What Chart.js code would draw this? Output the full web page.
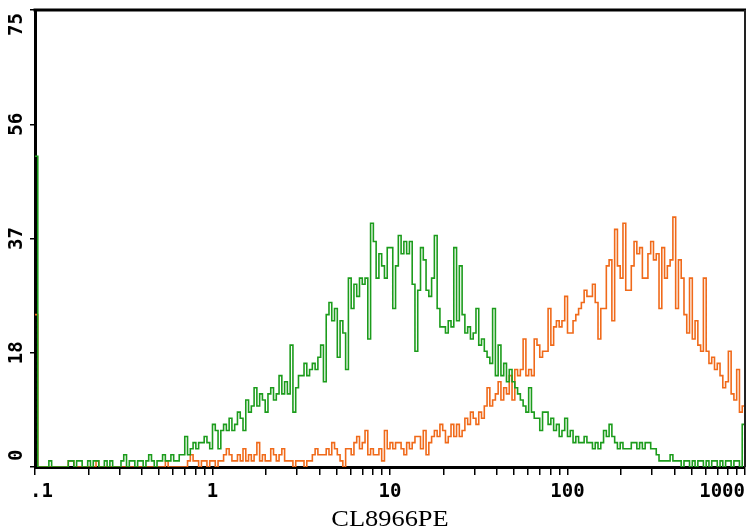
<!DOCTYPE html>
<html>
<head>
<meta charset="utf-8">
<style>
  body { margin: 0; background: #fff; }
  #histo { display: block; }
</style>
<script src="https://cdn.jsdelivr.net/npm/chart.js@4.4.1/dist/chart.umd.min.js"></script>
</head>
<body>
<canvas id="histo" width="746" height="532"></canvas>
<script>
// 256 log channels, .1 to 1000
const greenCounts = [
  51, 0, 0, 0, 0, 1, 0, 0,
  0, 0, 0, 0, 1, 1, 0, 1,
  1, 0, 0, 1, 0, 1, 1, 0,
  0, 1, 0, 1, 0, 0, 0, 1,
  2, 0, 1, 1, 0, 1, 1, 0,
  1, 2, 1, 0, 1, 1, 2, 1,
  1, 2, 1, 1, 2, 2, 5, 2,
  3, 4, 3, 4, 4, 5, 4, 3,
  7, 6, 3, 6, 7, 6, 8, 6,
  7, 9, 8, 6, 11, 9, 10, 13,
  10, 12, 11, 9, 12, 13, 11, 12,
  15, 12, 14, 12, 20, 9, 13, 15,
  15, 17, 15, 16, 17, 16, 18, 20,
  14, 25, 27, 24, 26, 18, 24, 22,
  16, 31, 26, 30, 28, 31, 30, 31,
  21, 40, 37, 31, 35, 33, 31, 36,
  36, 26, 33, 38, 35, 37, 35, 37,
  30, 19, 29, 36, 34, 29, 28, 31,
  38, 26, 23, 23, 22, 24, 23, 36,
  24, 33, 25, 22, 23, 21, 22, 26,
  20, 21, 19, 18, 17, 26, 15, 20,
  15, 17, 14, 16, 14, 13, 12, 11,
  10, 9, 13, 9, 8, 8, 6, 9,
  9, 7, 8, 6, 7, 5, 6, 8,
  5, 6, 4, 5, 4, 4, 5, 4,
  4, 3, 4, 3, 4, 6, 5, 7,
  5, 4, 3, 4, 3, 3, 3, 4,
  4, 3, 4, 3, 4, 4, 3, 3,
  2, 1, 1, 1, 1, 2, 1, 1,
  1, 0, 1, 1, 0, 1, 0, 1,
  1, 0, 1, 0, 1, 1, 0, 1,
  0, 1, 1, 0, 1, 1, 0, 7
];

const orangeCounts = [
  25, 0, 0, 0, 0, 0, 0, 0,
  0, 0, 0, 0, 1, 1, 0, 0,
  0, 0, 0, 0, 0, 0, 1, 0,
  0, 0, 0, 0, 0, 0, 0, 0,
  0, 0, 0, 0, 0, 0, 0, 0,
  0, 0, 0, 0, 0, 0, 0, 1,
  0, 0, 0, 0, 0, 0, 0, 1,
  2, 1, 1, 0, 1, 1, 0, 1,
  1, 0, 1, 1, 2, 3, 2, 1,
  1, 2, 1, 3, 1, 2, 1, 2,
  4, 1, 2, 1, 1, 3, 2, 1,
  2, 3, 1, 1, 1, 0, 1, 1,
  1, 0, 1, 1, 2, 3, 2, 2,
  2, 3, 2, 4, 3, 2, 1, 0,
  3, 3, 2, 4, 5, 3, 4, 6,
  2, 3, 2, 2, 3, 1, 6, 3,
  4, 3, 4, 4, 3, 2, 4, 3,
  4, 5, 5, 3, 6, 2, 4, 5,
  6, 5, 7, 6, 4, 5, 7, 5,
  7, 5, 6, 8, 7, 9, 8, 7,
  9, 8, 10, 13, 10, 11, 12, 14,
  11, 13, 12, 15, 11, 16, 15, 16,
  21, 15, 16, 15, 21, 20, 18, 19,
  19, 26, 20, 23, 24, 23, 24, 28,
  22, 22, 24, 25, 26, 27, 29, 28,
  28, 30, 27, 21, 26, 26, 33, 34,
  24, 39, 33, 31, 40, 29, 29, 33,
  37, 35, 36, 31, 31, 35, 37, 34,
  35, 26, 36, 31, 33, 34, 41, 26,
  34, 31, 25, 22, 31, 21, 24, 20,
  19, 31, 19, 17, 18, 16, 17, 15,
  13, 14, 19, 12, 11, 16, 9, 10
];

const xRange = [0.1, 1000];
const xDecades = [0.1, 1, 10, 100, 1000];
const xDecadeLabels = ['.1', '1', '10', '100', '1000'];
const xMinorSteps = [2, 3, 4, 5, 6, 7, 8, 9];
const yTicks = [0, 18.75, 37.5, 56.25, 75];
const yTickLabels = ['0', '18', '37', '56', '75'];
const axisTitle = 'CL8966PE';

const tickFont = 'bold 19px "DejaVu Sans Mono", monospace';
const titleFont = '24px "Liberation Serif", "Times New Roman", serif';

function toPoints(counts) {
    const n = counts.length;
    const edge = i => xRange[0] * Math.pow(xRange[1] / xRange[0], i / n);
    const pts = counts.map((v, i) => ({ x: edge(i), y: v }));
    pts.push({ x: edge(n), y: counts[n - 1] });
    return pts;
}

const framePlugin = {
    id: 'frame',
    afterDraw(chart) {
        const ctx = chart.ctx;
        const area = chart.chartArea;
        const xs = chart.scales.x;
        const ys = chart.scales.y;
        ctx.save();
        ctx.strokeStyle = '#000';
        ctx.lineWidth = 3;
        ctx.beginPath();
        ctx.moveTo(area.left - 1.5, area.top);
        ctx.lineTo(chart.width, area.top);
        ctx.stroke();
        ctx.lineWidth = 2;
        ctx.strokeStyle = '#222';
        ctx.beginPath();
        ctx.moveTo(area.right, area.top);
        ctx.lineTo(area.right, area.bottom);
        ctx.stroke();

        ctx.fillStyle = '#000';
        ctx.font = tickFont;
        ctx.textBaseline = 'middle';
        ctx.textAlign = 'center';
        // x labels
        xDecades.forEach((v, i) => {
            const label = xDecadeLabels[i];
            const w = ctx.measureText(label).width;
            let px = xs.getPixelForValue(v);
            px = Math.max(px, area.left - 5 + w / 2);
            px = Math.min(px, area.right - w / 2);
            ctx.fillText(label, px, area.bottom + 25);
        });
        // y labels, rotated
        yTicks.forEach((v, i) => {
            const label = yTickLabels[i];
            const w = ctx.measureText(label).width;
            let py = ys.getPixelForValue(v);
            py = Math.max(py, area.top + w / 2 + 3);
            py = Math.min(py, area.bottom - w / 2 - 6);
            ctx.save();
            ctx.translate(17, py);
            ctx.rotate(-Math.PI / 2);
            ctx.fillText(label, 0, 0);
            ctx.restore();
        });
        // axis title, centred under the plot area
        ctx.font = titleFont;
        ctx.save();
        ctx.translate((area.left + area.right) / 2, area.bottom + 53);
        ctx.scale(1.1, 1);
        ctx.fillText(axisTitle, 0, 0);
        ctx.restore();
        ctx.restore();
    }
};

const ctx = document.getElementById('histo').getContext('2d');
new Chart(ctx, {
    type: 'line',
    data: {
        datasets: [{
            label: 'green',
            data: toPoints(greenCounts),
            borderColor: '#1c9c1c',
            borderWidth: 1.6,
            stepped: 'before',
            pointRadius: 0,
            fill: false
        }, {
            label: 'orange',
            data: toPoints(orangeCounts),
            borderColor: '#f06a1a',
            borderWidth: 1.6,
            stepped: 'before',
            pointRadius: 0,
            fill: false
        }]
    },
    options: {
        responsive: false,
        animation: false,
        events: [],
        layout: { padding: { left: 0, right: 1, top: 10, bottom: 0 } },
        plugins: {
            legend: { display: false },
            tooltip: { enabled: false },
            title: { display: false }
        },
        scales: {
            x: {
                type: 'logarithmic',
                min: xRange[0],
                max: xRange[1],
                afterBuildTicks(scale) {
                    const t = [];
                    xDecades.forEach((d, i) => {
                        t.push({ value: d, major: true });
                        if (i < xDecades.length - 1) {
                            xMinorSteps.forEach(s => t.push({ value: d * s }));
                        }
                    });
                    scale.ticks = t;
                },
                afterFit(scale) { scale.height = 65; scale.paddingLeft = 0; scale.paddingRight = 0; },
                ticks: { display: false },
                grid: { drawOnChartArea: false, drawTicks: true, tickLength: 8, color: '#000', lineWidth: 1.5 },
                border: { display: true, color: '#000', width: 3 }
            },
            y: {
                type: 'linear',
                min: yTicks[0],
                max: yTicks[yTicks.length - 1],
                afterBuildTicks(scale) {
                    scale.ticks = yTicks.map(v => ({ value: v }));
                },
                afterFit(scale) { scale.width = 35; scale.paddingTop = 0; scale.paddingBottom = 0; },
                ticks: { display: false },
                grid: { drawOnChartArea: false, drawTicks: true, tickLength: 5, color: '#000', lineWidth: 1.5 },
                border: { display: true, color: '#000', width: 3 }
            }
        }
    },
    plugins: [framePlugin]
});
</script>
</body>
</html>
